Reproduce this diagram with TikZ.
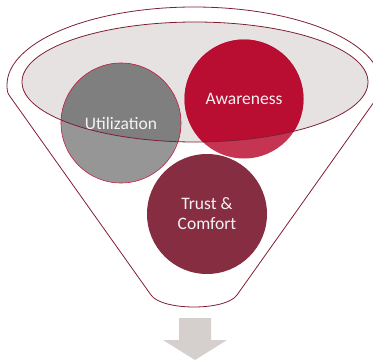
\documentclass[tikz,border=0pt]{standalone}
\usepackage{fontspec}
\setmainfont{Carlito}
\definecolor{funnelline}{RGB}{128,30,52}
\definecolor{rimfill}{RGB}{231,226,226}
\definecolor{utildark}{RGB}{127,127,127}
\definecolor{utillight}{RGB}{150,150,150}
\definecolor{utilline}{RGB}{196,30,66}
\definecolor{awaredark}{RGB}{185,14,49}
\definecolor{awarelight}{RGB}{197,52,81}
\definecolor{trustfill}{RGB}{134,45,65}
\definecolor{arrowfill}{RGB}{213,207,206}
\definecolor{labeltext}{RGB}{244,242,242}

\begin{document}
\begin{tikzpicture}[x=1pt,y=1pt,yscale=-1,xscale=1,
  stagetext/.style={text=labeltext,font=\fontsize{17.5}{20}\selectfont,align=center,inner sep=0.75pt}]
\useasboundingbox (0,0) rectangle (373,362); %picture is 373 wide, 362 high

% circle centres
\coordinate (utilc) at (121,123);
\coordinate (awarec) at (244,99);
\coordinate (trustc) at (207,214);
\coordinate (rimc) at (195,82);

%Funnel outline
\draw [funnelline,line width=0.8pt] (151,295) -- (9,95) .. controls (7,92) and (7,88) .. (7,85) arc [start angle=180,end angle=360,x radius=187,y radius=78] .. controls (381,88) and (381,92) .. (379,95) -- (237,295) .. controls (226,311) and (162,311) .. (151,295) -- cycle ;
%Funnel rim
\fill [rimfill] (rimc) ellipse [x radius=173,y radius=60] ;

%Circles
\fill [utillight] (utilc) circle [radius=60] ;
\fill [awarelight] (awarec) circle [radius=59.5] ;
\fill [trustfill] (trustc) circle [radius=60] ;
\begin{scope}
\clip (rimc) ellipse [x radius=173,y radius=60] ;
\fill [utildark] (utilc) circle [radius=60] ;
\fill [awaredark] (awarec) circle [radius=59.5] ;
\end{scope}
\draw [utilline,line width=0.6pt] (utilc) circle [radius=60] ;
\draw [funnelline,line width=0.8pt] (rimc) ellipse [x radius=173,y radius=60] ;

%Down arrow
\fill [arrowfill] (179,318) -- (211,318) -- (211,340) -- (227,340) -- (195,360) -- (163,340) -- (179,340) -- cycle ;

% Text Node
\node [stagetext] (util) at (utilc) {Utilization};
% Text Node
\node [stagetext] (aware) at (awarec) {Awareness};
% Text Node
\node [stagetext] (trust) at ([yshift=-0.5]trustc) {Trust \&\\Comfort};

\end{tikzpicture}
\end{document}
